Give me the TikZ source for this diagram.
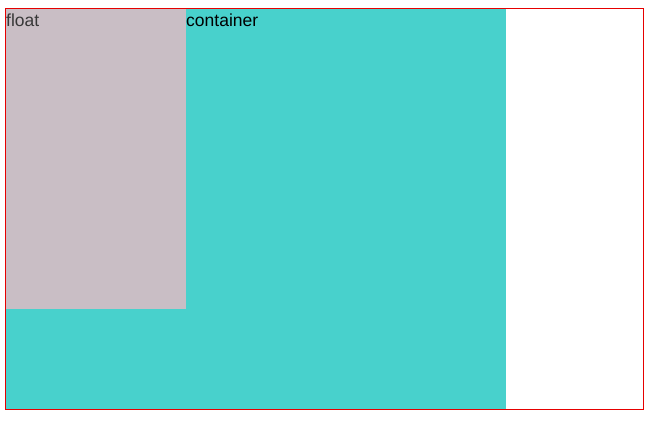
\documentclass[tikz,border=0pt]{standalone}
\usepackage{fontspec}
\setmainfont{Liberation Sans}
\usetikzlibrary{positioning}
\definecolor{containercolor}{RGB}{72,209,204}
\definecolor{floatcolor}{RGB}{201,190,197}
\definecolor{outlinecolor}{RGB}{230,0,0}

\begin{document}
\begin{tikzpicture}[
    x=1pt, y=-1pt,
    every node/.style={font=\fontsize{17.5}{20}\selectfont},
    blockbox/.style={rectangle, draw=none, fill=#1, inner sep=0pt,
        anchor=north west},
    labeltext/.style={inner sep=0pt, anchor=base west},
    outline/.style={draw=outlinecolor, line width=1pt},
]
\useasboundingbox (0,0) rectangle (649,421);

% === CONTAINER ===
\node[blockbox=containercolor, minimum width=500pt, minimum height=400pt] (container) at (6,9) {};

% === FLOAT ===
\node[blockbox=floatcolor, minimum width=180pt, minimum height=300pt] (float) at (container.north west) {};

% === LABELS ===
\node[labeltext, text=black!78] (floatlabel) at (6,26) {float};
\node[labeltext, text=black] (containerlabel) at (186,26) {container};

% === OUTER BORDER ===
\coordinate (outer_nw) at (5.5,8.5);
\coordinate (outer_se) at (643.5,409.5);
\draw[outline] (outer_nw) rectangle (outer_se);

\end{tikzpicture}
\end{document}
